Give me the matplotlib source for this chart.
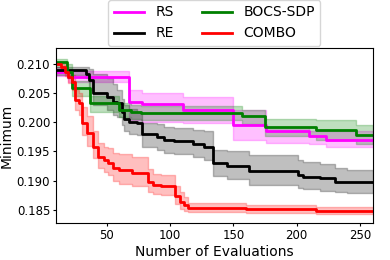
import numpy as np
import matplotlib
matplotlib.use("Agg")
import matplotlib.pyplot as plt

# ---- data (step curves: mean and band edges at breakpoints) ----
rs_x = [10, 20, 68, 78, 110, 150, 176, 210, 223, 260]
rs_mean = [0.2086, 0.2077, 0.2035, 0.2031, 0.2020, 0.1995, 0.1985, 0.1976, 0.1970, 0.1970]
rs_upper = [0.2095, 0.2088, 0.2055, 0.2050, 0.2043, 0.2020, 0.1992, 0.1985, 0.1985, 0.1985]
rs_lower = [0.2078, 0.2068, 0.2003, 0.2000, 0.1998, 0.1969, 0.1965, 0.1962, 0.1958, 0.1958]

re_x = [10, 34, 36, 39, 50, 55, 58, 62, 64, 68, 74, 78, 90, 95, 103, 118, 127, 134,
        145, 162, 201, 205, 218, 230, 240, 260]
re_mean = [0.2089, 0.2083, 0.2072, 0.2050, 0.2043, 0.2035, 0.2032, 0.2018, 0.2006, 0.2001,
           0.1998, 0.1980, 0.1975, 0.1969, 0.1967, 0.1963, 0.1958, 0.1930, 0.1925, 0.1917,
           0.1910, 0.1907, 0.1904, 0.1898, 0.1897, 0.1897]
re_upper = [0.2094, 0.2094, 0.2090, 0.2082, 0.2075, 0.2065, 0.2055, 0.2040, 0.2030, 0.2022,
            0.2018, 0.1998, 0.1997, 0.1992, 0.1990, 0.1987, 0.1985, 0.1952, 0.1950, 0.1944,
            0.1936, 0.1932, 0.1928, 0.1922, 0.1918, 0.1918]
re_lower = [0.2080, 0.2075, 0.2055, 0.2030, 0.2020, 0.2012, 0.2008, 0.1995, 0.1985, 0.1980,
            0.1978, 0.1958, 0.1953, 0.1948, 0.1945, 0.1940, 0.1935, 0.1908, 0.1903, 0.1893,
            0.1888, 0.1885, 0.1883, 0.1880, 0.1879, 0.1879]

bocs_x = [10, 19, 23, 37, 60, 69, 77, 157, 175, 215, 247, 260]
bocs_mean = [0.2103, 0.2086, 0.2058, 0.2032, 0.2020, 0.2018, 0.2015, 0.2010, 0.1991, 0.1986,
             0.1978, 0.1978]
bocs_upper = [0.2107, 0.2100, 0.2070, 0.2045, 0.2033, 0.2030, 0.2027, 0.2020, 0.2005, 0.2003,
              0.1995, 0.1995]
bocs_lower = [0.2095, 0.2075, 0.2045, 0.2018, 0.2008, 0.2006, 0.2004, 0.1997, 0.1976, 0.1970,
              0.1962, 0.1962]

combo_x = [10, 14, 17, 20, 23, 25, 28, 31, 35, 39, 43, 48, 51, 55, 60, 70, 83, 87, 93, 104,
           108, 111, 114, 160, 215, 260]
combo_mean = [0.2100, 0.2094, 0.2086, 0.2077, 0.2069, 0.2037, 0.2032, 0.1998, 0.1981, 0.1958,
              0.1941, 0.1935, 0.1930, 0.1921, 0.1918, 0.1913, 0.1898, 0.1893, 0.1891, 0.1873,
              0.1864, 0.1859, 0.1853, 0.1851, 0.1848, 0.1848]
combo_upper = [0.2103, 0.2099, 0.2093, 0.2087, 0.2080, 0.2055, 0.2050, 0.2025, 0.2010, 0.1985,
               0.1965, 0.1958, 0.1955, 0.1948, 0.1945, 0.1940, 0.1920, 0.1912, 0.1910, 0.1890,
               0.1880, 0.1872, 0.1862, 0.1858, 0.1855, 0.1855]
combo_lower = [0.2097, 0.2088, 0.2078, 0.2066, 0.2055, 0.2020, 0.2012, 0.1978, 0.1960, 0.1938,
               0.1922, 0.1915, 0.1910, 0.1900, 0.1895, 0.1890, 0.1880, 0.1877, 0.1875, 0.1860,
               0.1852, 0.1848, 0.1846, 0.1845, 0.1843, 0.1843]

series = [
    ("RS", "magenta", rs_x, rs_mean, rs_lower, rs_upper),
    ("RE", "black", re_x, re_mean, re_lower, re_upper),
    ("BOCS-SDP", "green", bocs_x, bocs_mean, bocs_lower, bocs_upper),
    ("COMBO", "red", combo_x, combo_mean, combo_lower, combo_upper),
]

fig = plt.figure(figsize=(3.9, 2.6), dpi=100)
ax = fig.add_axes([0.143, 0.141, 0.813, 0.673])

for name, col, x, m, lo, up in series:
    ax.fill_between(x, lo, up, step="post", facecolor=col, edgecolor=col,
                    alpha=0.25, linewidth=1)
    ax.step(x, m, where="post", color=col, linewidth=2, label=name)

ax.set_xlim(10, 260)
ax.set_ylim(0.1827, 0.2126)
ax.set_xticks([50, 100, 150, 200, 250])
ax.set_yticks([0.185, 0.190, 0.195, 0.200, 0.205, 0.210])
ax.tick_params(labelsize=8.5, length=2.5, pad=1.5)
ax.set_xlabel("Number of Evaluations", fontsize=10, labelpad=2)
ax.set_ylabel("Minimum", fontsize=10, labelpad=2)
ax.legend(ncol=2, loc="lower center", bbox_to_anchor=(0.5, 0.99), fontsize=10,
          handlelength=2.2, columnspacing=2.0, borderaxespad=0.3)

fig.savefig("out.png", dpi=100)
